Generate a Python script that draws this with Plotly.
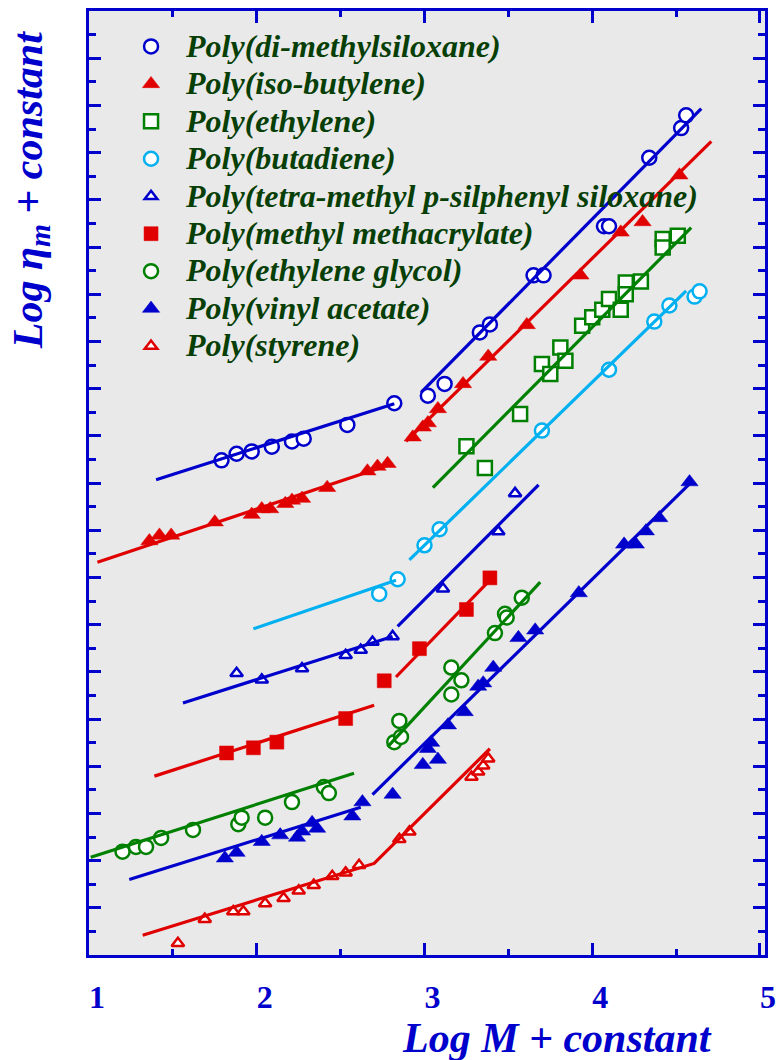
import plotly.graph_objects as go

# ---------------- data ----------------
series_names = [
    "Poly(di-methylsiloxane)",
    "Poly(iso-butylene)",
    "Poly(ethylene)",
    "Poly(butadiene)",
    "Poly(tetra-methyl p-silphenyl siloxane)",
    "Poly(methyl methacrylate)",
    "Poly(ethylene glycol)",
    "Poly(vinyl acetate)",
    "Poly(styrene)",
]

x_tick_values = [1, 2, 3, 4, 5]
x_tick_labels = ["1", "2", "3", "4", "5"]

# Poly(di-methylsiloxane)
pdms_x = [1.79, 1.88, 1.97, 2.09, 2.21, 2.28, 2.54, 2.82,
          3.02, 3.12, 3.33, 3.39, 3.65, 3.71, 4.07, 4.10, 4.34, 4.53, 4.56]
pdms_y = [10.48, 10.62, 10.67, 10.77, 10.88, 10.94, 11.23, 11.69,
          11.85, 12.10, 13.19, 13.36, 14.40, 14.40, 15.44, 15.44, 16.89, 17.52, 17.79]
pdms_fit_x = [[1.40, 2.82], [2.98, 4.65]]
pdms_fit_y = [[10.07, 11.68], [11.92, 17.93]]

# Poly(iso-butylene)
pib_x = [1.36, 1.42, 1.49, 1.75, 1.97, 2.03, 2.08, 2.17, 2.21, 2.27, 2.42, 2.66, 2.72, 2.78,
         2.93, 2.99, 3.02, 3.08, 3.23, 3.38, 3.61, 3.93, 4.17, 4.30, 4.52]
pib_y = [8.77, 8.89, 8.89, 9.17, 9.33, 9.45, 9.45, 9.56, 9.63, 9.67, 9.90, 10.25, 10.35, 10.41,
         10.97, 11.18, 11.27, 11.57, 12.10, 12.68, 13.35, 14.40, 15.31, 15.53, 16.52]
pib_fit_x = [[1.05, 2.81], [2.89, 4.71]]
pib_fit_y = [[8.32, 10.41], [10.88, 17.24]]

# Poly(ethylene)
pe_x = [3.25, 3.36, 3.57, 3.70, 3.75, 3.81, 3.84, 3.94, 4.00, 4.06, 4.10, 4.17,
        4.20, 4.20, 4.29, 4.42, 4.42, 4.51]
pe_y = [10.78, 10.32, 11.46, 12.52, 12.31, 12.87, 12.59, 13.33, 13.51, 13.67, 13.90, 13.67,
        14.25, 14.00, 14.27, 15.17, 14.99, 15.24]
pe_fit_x = [[3.05, 4.59]]
pe_fit_y = [[9.90, 15.41]]

# Poly(butadiene)
pb_x = [2.73, 2.84, 3.00, 3.09, 3.70, 4.10, 4.37, 4.46, 4.61, 4.64]
pb_y = [7.65, 7.96, 8.68, 9.02, 11.11, 12.40, 13.42, 13.76, 13.95, 14.06]
pb_fit_x = [[1.98, 2.83], [2.91, 4.56]]
pb_fit_y = [[6.91, 7.94], [8.37, 14.07]]

# Poly(tetra-methyl p-silphenyl siloxane)
ptmps_x = [1.88, 2.03, 2.27, 2.53, 2.62, 2.69, 2.81, 3.11, 3.44, 3.54]
ptmps_y = [5.97, 5.83, 6.07, 6.35, 6.46, 6.63, 6.75, 7.76, 8.97, 9.78]
ptmps_fit_x = [[1.56, 2.81], [2.84, 3.68]]
ptmps_fit_y = [[5.34, 6.75], [6.96, 9.96]]

# Poly(methyl methacrylate)
pmma_x = [1.82, 1.98, 2.12, 2.53, 2.76, 2.97, 3.25, 3.39]
pmma_y = [4.28, 4.39, 4.51, 5.01, 5.81, 6.49, 7.32, 7.99]
pmma_fit_x = [[1.39, 2.70], [2.83, 3.39]]
pmma_fit_y = [[3.79, 5.29], [5.89, 7.94]]

# Poly(ethylene glycol)
peg_x = [1.20, 1.28, 1.34, 1.43, 1.62, 1.89, 1.91, 2.05, 2.21, 2.40, 2.43,
         2.82, 2.85, 2.86, 3.16, 3.22, 3.16, 3.42, 3.48, 3.49, 3.58]
peg_y = [2.19, 2.29, 2.29, 2.48, 2.65, 2.77, 2.91, 2.91, 3.24, 3.56, 3.43,
         4.51, 4.96, 4.62, 6.09, 5.82, 5.52, 6.82, 7.23, 7.15, 7.57]
peg_fit_x = [[1.01, 2.58], [2.78, 3.69]]
peg_fit_y = [[2.07, 3.85], [4.41, 7.90]]

# Poly(vinyl acetate)
pvac_x = [1.81, 1.88, 2.03, 2.14, 2.24, 2.27, 2.33, 2.36, 2.57, 2.63,
          2.81, 2.99, 3.02, 3.04, 3.08, 3.14, 3.24, 3.32, 3.35, 3.41, 3.56, 3.66,
          3.92, 4.19, 4.26, 4.32, 4.40, 4.58]
pvac_y = [2.05, 2.17, 2.40, 2.54, 2.49, 2.62, 2.80, 2.68, 2.94, 3.24,
          3.40, 4.03, 4.37, 4.50, 4.14, 4.87, 5.15, 5.69, 5.76, 6.09, 6.72, 6.88,
          7.67, 8.70, 8.70, 8.98, 9.26, 10.02]
pvac_fit_x = [[1.24, 2.62], [2.69, 4.58]]
pvac_fit_y = [[1.60, 3.13], [3.40, 9.98]]

# Poly(styrene)
ps_x = [1.53, 1.69, 1.86, 1.92, 2.05, 2.16, 2.25, 2.34, 2.45, 2.53, 2.61,
        2.85, 2.91, 3.28, 3.32, 3.35, 3.38]
ps_y = [0.25, 0.76, 0.92, 0.92, 1.09, 1.20, 1.36, 1.48, 1.67, 1.74, 1.90,
        2.45, 2.61, 3.77, 3.88, 4.01, 4.16]
ps_fit_x = [[1.32, 2.70, 3.39]]
ps_fit_y = [[0.42, 1.94, 4.37]]

# ---------------- styling ----------------
BLUE = "#0000cc"
RED = "#e00000"
GREEN = "#008000"
CYAN = "#00b0f0"
LEGEND_TEXT = "#073f07"
FONT = "Liberation Serif"

series = [
    (pdms_x, pdms_y, pdms_fit_x, pdms_fit_y, BLUE, "circle", "open"),
    (pib_x, pib_y, pib_fit_x, pib_fit_y, RED, "triangle-up", "filled"),
    (pe_x, pe_y, pe_fit_x, pe_fit_y, GREEN, "square", "open"),
    (pb_x, pb_y, pb_fit_x, pb_fit_y, CYAN, "circle", "open"),
    (ptmps_x, ptmps_y, ptmps_fit_x, ptmps_fit_y, BLUE, "triangle-up", "opensmall"),
    (pmma_x, pmma_y, pmma_fit_x, pmma_fit_y, RED, "square", "filled"),
    (peg_x, peg_y, peg_fit_x, peg_fit_y, GREEN, "circle", "open"),
    (pvac_x, pvac_y, pvac_fit_x, pvac_fit_y, BLUE, "triangle-up", "filled"),
    (ps_x, ps_y, ps_fit_x, ps_fit_y, RED, "triangle-up", "opensmall"),
]

fig = go.Figure()

for name, (xs, ys, fx, fy, col, sym, kind) in zip(series_names, series):
    if kind == "open":
        marker = dict(symbol=sym, size=14, color="white", line=dict(color=col, width=2.5))
    elif kind == "opensmall":
        marker = dict(symbol=sym, size=11, color="white", line=dict(color=col, width=2.5))
    else:
        size = 15 if sym == "triangle-up" else 14
        marker = dict(symbol=sym, size=size, color=col, line=dict(color=col, width=0.5))
    fig.add_trace(go.Scatter(
        x=xs, y=ys, mode="markers", marker=marker,
        name='<span style="font-size:32px">' + name + "</span>",
        showlegend=True,
    ))

for name, (xs, ys, fx, fy, col, sym, kind) in zip(series_names, series):
    for sx, sy in zip(fx, fy):
        fig.add_trace(go.Scatter(
            x=sx, y=sy, mode="lines", line=dict(color=col, width=3.2),
            showlegend=False, hoverinfo="skip",
        ))

axis_common = dict(
    showline=True, linecolor=BLUE, linewidth=3, mirror="ticks",
    ticks="inside", ticklen=12, tickwidth=2.5, tickcolor=BLUE,
    showgrid=False, zeroline=False,
)

fig.update_xaxes(
    range=[1.0, 5.03], tickmode="array", tickvals=x_tick_values, ticktext=x_tick_labels,
    tickfont=dict(family=FONT, size=32, color=BLUE, weight="bold"),
    ticklabelshift=8, ticklabelstandoff=12,
    minor=dict(tickmode="linear", tick0=1, dtick=0.5, ticks="inside", ticklen=6,
               tickwidth=2.5, tickcolor=BLUE, showgrid=False),
    **axis_common,
)
fig.update_yaxes(
    range=[0, 20], tickmode="linear", tick0=0, dtick=1, showticklabels=False,
    minor=dict(tickmode="linear", tick0=0, dtick=0.5, ticks="inside", ticklen=7,
               tickwidth=2.5, tickcolor=BLUE, showgrid=False),
    **axis_common,
)

fig.update_layout(
    width=784, height=1060,
    margin=dict(l=89, r=8, t=10, b=105, pad=0),
    paper_bgcolor="white", plot_bgcolor="#e9e9e9",
    showlegend=True,
    legend=dict(
        x=0.04, y=0.9876, xanchor="left", yanchor="top",
        bgcolor="rgba(0,0,0,0)", borderwidth=0,
        font=dict(family=FONT, size=26.5, color=LEGEND_TEXT, weight="bold", style="italic"),
        itemwidth=60, tracegroupgap=0, traceorder="normal",
    ),
    annotations=[
        dict(text="Log M + constant", xref="paper", yref="paper", x=0.693, y=-0.088,
             xanchor="center", yanchor="middle", showarrow=False,
             font=dict(family=FONT, size=42, color=BLUE, weight="bold", style="italic")),
        dict(text="Log η<sub>m</sub> + constant", xref="paper", yref="paper", x=-0.086, y=0.81,
             xanchor="center", yanchor="middle", showarrow=False, textangle=-90,
             font=dict(family=FONT, size=42, color=BLUE, weight="bold", style="italic")),
    ],
)

fig.write_html("out.html")
